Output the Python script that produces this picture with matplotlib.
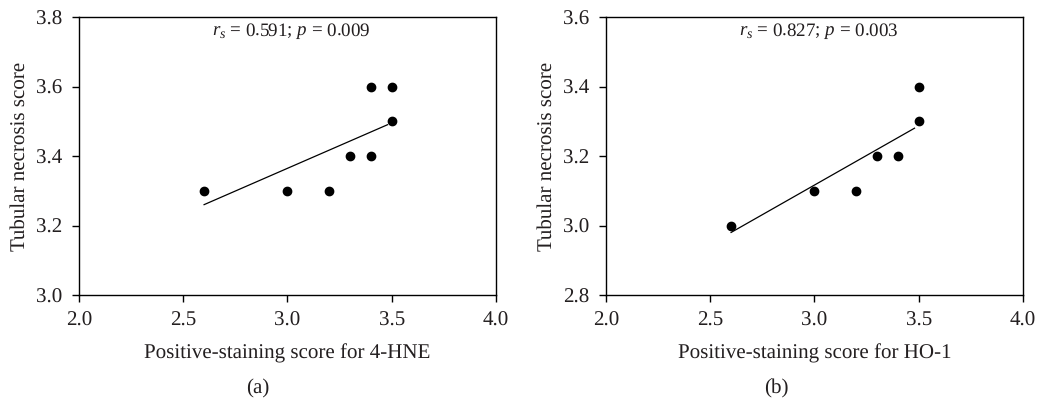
import numpy as np
import matplotlib
matplotlib.use("Agg")
import matplotlib.pyplot as plt

# panel (a): 4-HNE vs tubular necrosis
hne_x = [2.6, 3.0, 3.2, 3.3, 3.4, 3.4, 3.5, 3.5]
hne_y = [3.3, 3.3, 3.3, 3.4, 3.4, 3.6, 3.6, 3.5]
hne_fit_x = [2.6, 3.48]
hne_fit_y = [3.26, 3.49]

# panel (b): HO-1 vs tubular necrosis
ho1_x = [2.6, 3.0, 3.2, 3.3, 3.4, 3.5, 3.5]
ho1_y = [3.0, 3.1, 3.1, 3.2, 3.2, 3.3, 3.4]
ho1_fit_x = [2.6, 3.48]
ho1_fit_y = [2.98, 3.28]

x_ticks = [2.0, 2.5, 3.0, 3.5, 4.0]
yticks_a = [3.0, 3.2, 3.4, 3.6, 3.8]
yticks_b = [2.8, 3.0, 3.2, 3.4, 3.6]

plt.rcParams["font.family"] = "Liberation Serif"
plt.rcParams["mathtext.fontset"] = "custom"
plt.rcParams["mathtext.rm"] = "Liberation Serif"
plt.rcParams["mathtext.it"] = "Liberation Serif:italic"
plt.rcParams["text.hinting"] = "no_hinting"
plt.rcParams["text.hinting_factor"] = 1

TXT = "#231f20"
FS = 15

fig = plt.figure(figsize=(10.37, 4.0), dpi=100)

panels = [
    (0.0762, hne_x, hne_y, hne_fit_x, hne_fit_y, yticks_a,
     "Positive-staining score for 4-HNE", r"$r_s$ = 0.591; $p$ = 0.009", "(a)", 0.2485),
    (0.5844, ho1_x, ho1_y, ho1_fit_x, ho1_fit_y, yticks_b,
     "Positive-staining score for HO-1", r"$r_s$ = 0.827; $p$ = 0.003", "(b)", 0.749),
]

for left, xs, ys, fx, fy, yt, xlab, stat, tag, tag_x in panels:
    ax = fig.add_axes([left, 0.2625, 0.402, 0.695])
    ax.plot(fx, fy, color="black", linewidth=0.9)
    ax.plot(xs, ys, "o", color="black", markersize=6)
    ax.set_xlim(x_ticks[0], x_ticks[-1])
    ax.set_ylim(yt[0], yt[-1])
    ax.set_xticks(x_ticks)
    ax.set_yticks(yt)
    ax.set_xticklabels([f"{v:.1f}" for v in x_ticks])
    ax.set_yticklabels([f"{v:.1f}" for v in yt])
    ax.tick_params(direction="out", length=5, width=1, labelsize=FS,
                   colors="black", labelcolor=TXT,
                   top=False, right=False)
    ax.tick_params(axis="x", pad=6.5)
    ax.tick_params(axis="y", pad=7)
    for sp in ax.spines.values():
        sp.set_linewidth(1)
    ax.set_xlabel(xlab, fontsize=FS, color=TXT, labelpad=9.5)
    ax.set_ylabel("Tubular necrosis score", fontsize=FS, color=TXT, labelpad=5)
    ax.text(0.51, 0.948, stat, transform=ax.transAxes, ha="center", va="center",
            fontsize=14, color=TXT)
    fig.text(tag_x, 0.03, tag, ha="center", va="center", fontsize=FS, color=TXT)

fig.savefig("out.png", dpi=100)
